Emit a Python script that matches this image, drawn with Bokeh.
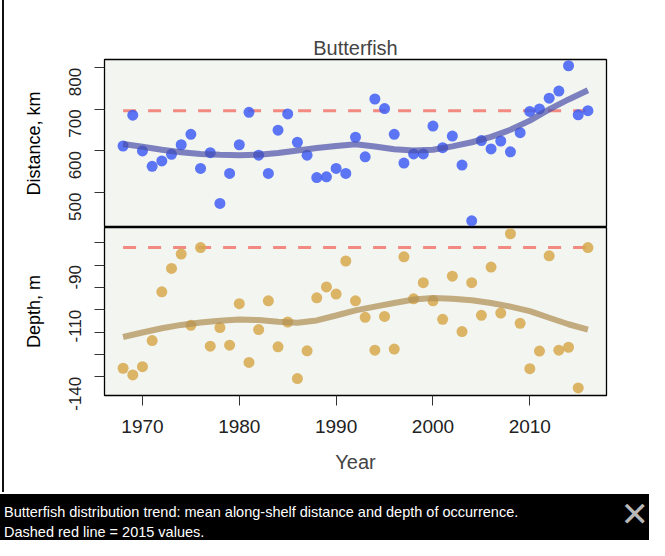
import math
from bokeh.plotting import figure
from bokeh.models import Range1d, FixedTicker, Div
from bokeh.layouts import column
from bokeh.embed import file_html
from bokeh.resources import INLINE

# ---------------- data ----------------
years = [1968, 1969, 1970, 1971, 1972, 1973, 1974, 1975, 1976, 1977,
         1978, 1979, 1980, 1981, 1982, 1983, 1984, 1985, 1986, 1987,
         1988, 1989, 1990, 1991, 1992, 1993, 1994, 1995, 1996, 1997,
         1998, 1999, 2000, 2001, 2002, 2003, 2004, 2005, 2006, 2007,
         2008, 2009, 2010, 2011, 2012, 2013, 2014, 2015, 2016]

distance_km = [612, 686, 600, 563, 576, 592, 615, 640, 558, 596,
               474, 546, 615, 693, 590, 546, 650, 689, 621, 590,
               536, 538, 558, 546, 633, 586, 725, 702, 640, 571,
               593, 593, 660, 608, 636, 566, 432, 625, 605, 624,
               598, 644, 695, 701, 727, 744, 805, 687, 697]

depth_m = [-136.2, -139.2, -135.5, -123.8, -102.0, -91.5, -85.1, -117.0, -82.2, -126.3,
           -118.0, -125.9, -107.3, -133.6, -118.9, -106.0, -126.6, -115.5, -140.8, -128.4,
           -104.7, -99.8, -103.0, -88.2, -106.0, -113.4, -128.1, -113.0, -127.6, -86.3,
           -105.1, -97.9, -106.0, -114.3, -95.0, -119.8, -97.9, -112.5, -90.9, -111.5,
           -76.0, -116.1, -136.4, -128.5, -85.9, -128.1, -126.8, -145.0, -82.2]

trend_years = [1968, 1970, 1972, 1974, 1976, 1978, 1980, 1982, 1984, 1986,
               1988, 1990, 1992, 1994, 1996, 1998, 2000, 2002, 2004, 2006,
               2008, 2010, 2012, 2014, 2016]
distance_trend = [617, 610, 603, 597, 593, 591, 590, 591, 595, 601,
                  607, 612, 616, 611, 604, 601, 603, 611, 621, 634,
                  651, 673, 700, 724, 746]
depth_trend = [-122.2, -120.2, -118.3, -116.8, -115.7, -114.9, -114.4, -114.6, -115.4, -115.8,
               -114.8, -112.6, -110.3, -108.6, -107.0, -105.4, -104.8, -105.1, -105.8, -107.0,
               -108.6, -110.6, -113.6, -116.5, -118.9]

ref_years = [1968, 2016]
distance_ref = [697, 697]
depth_ref = [-82.2, -82.2]

x_ticks = [1970, 1980, 1990, 2000, 2010]
dist_ticks = [500, 600, 700, 800]
depth_ticks = [-140, -130, -120, -110, -100, -90, -80]
depth_labels = {-140: "-140", -130: "", -120: "", -110: "-110", -100: "", -90: "-90", -80: ""}

title_text = "Butterfish"
caption1 = "Butterfish distribution trend: mean along-shelf distance and depth of occurrence."
caption2 = "Dashed red line = 2015 values."

# ---------------- styling ----------------
FONT = "Liberation Sans"
PANEL_BG = "#f3f5f0"
x_range = Range1d(1966.08, 2017.92)


def style_common(p):
    p.background_fill_color = PANEL_BG
    p.border_fill_color = "white"
    p.outline_line_color = "black"
    p.outline_line_width = 1.3
    p.xgrid.visible = False
    p.ygrid.visible = False
    for ax in p.yaxis:
        ax.axis_line_color = None
        ax.major_tick_out = 10
        ax.major_tick_in = 0
        ax.minor_tick_line_color = None
        ax.major_tick_line_color = "#333333"
        ax.major_label_orientation = math.pi / 2
        ax.major_label_text_font = FONT
        ax.major_label_text_font_size = "17px"
        ax.major_label_text_color = "#222222"
        ax.major_label_standoff = 19
        ax.axis_label_text_font = FONT
        ax.axis_label_text_font_size = "18px"
        ax.axis_label_text_font_style = "normal"
        ax.axis_label_text_color = "black"
        ax.axis_label_standoff = 17


p_top = figure(frame_width=502, frame_height=168, x_range=x_range,
               y_range=Range1d(416, 820), x_axis_location=None,
               min_border_left=104, min_border_right=43,
               min_border_top=59, min_border_bottom=0,
               toolbar_location=None, output_backend="svg", margin=0)
p_top.title.text = title_text
p_top.title.align = "center"
p_top.title.text_font = FONT
p_top.title.text_font_size = "20px"
p_top.title.text_font_style = "normal"
p_top.title.standoff = 1
style_common(p_top)
p_top.yaxis.ticker = FixedTicker(ticks=dist_ticks)
p_top.yaxis.axis_label = "Distance, km"

p_top.line(ref_years, distance_ref, line_color="#f27e76", line_width=3,
           line_dash="13 12", line_alpha=0.9)
p_top.scatter(years, distance_km, size=11, fill_color="#3f5ef5",
              fill_alpha=0.85, line_color=None)
p_top.line(trend_years, distance_trend, line_color="#4a4fa8", line_width=6,
           line_alpha=0.7)

p_bot = figure(frame_width=502, frame_height=168, x_range=x_range,
               y_range=Range1d(-148.4, -73.2),
               min_border_left=104, min_border_right=43,
               min_border_top=0, min_border_bottom=99,
               toolbar_location=None, output_backend="svg", margin=0)
style_common(p_bot)
p_bot.yaxis.ticker = FixedTicker(ticks=depth_ticks)
p_bot.yaxis.major_label_overrides = depth_labels
p_bot.yaxis.axis_label = "Depth, m"
xa = p_bot.xaxis[0]
xa.ticker = FixedTicker(ticks=x_ticks)
xa.axis_line_color = None
xa.major_tick_out = 10
xa.major_tick_in = 0
xa.minor_tick_line_color = None
xa.major_tick_line_color = "#333333"
xa.major_label_text_font = FONT
xa.major_label_text_font_size = "19px"
xa.major_label_text_color = "#222222"
xa.major_label_standoff = 14
xa.axis_label = "Year"
xa.axis_label_text_font = FONT
xa.axis_label_text_font_size = "20px"
xa.axis_label_text_font_style = "normal"
xa.axis_label_standoff = 15

p_bot.line(ref_years, depth_ref, line_color="#f27e76", line_width=3,
           line_dash="13 12", line_alpha=0.9)
p_bot.scatter(years, depth_m, size=11, fill_color="#d6a84e",
              fill_alpha=0.85, line_color=None)
p_bot.line(trend_years, depth_trend, line_color="#b0925a", line_width=6,
           line_alpha=0.75)

caption = Div(
    width=649, height=46, margin=0,
    text=("<div style='position:relative;width:649px;height:46px;'>"
          "<div style='position:absolute;left:2px;top:-494px;width:2px;"
          "height:492px;background:#111;'></div>"
          "<div style='position:absolute;left:4px;top:8px;height:38px;"
          "overflow:hidden;line-height:20px;white-space:nowrap;'>"
          + caption1 + "<br>" + caption2 + "</div>"
          "<div style='position:absolute;right:0px;top:2px;font-size:34px;"
          "line-height:36px;color:#b8b8b8;font-family:DejaVu Sans;'>&#x2715;</div></div>"),
    styles={"background-color": "black", "color": "white",
            "font-family": FONT, "font-size": "14.5px"})

layout = column(p_top, p_bot, caption, spacing=0)

open("out.html", "w").write(file_html(layout, INLINE))
